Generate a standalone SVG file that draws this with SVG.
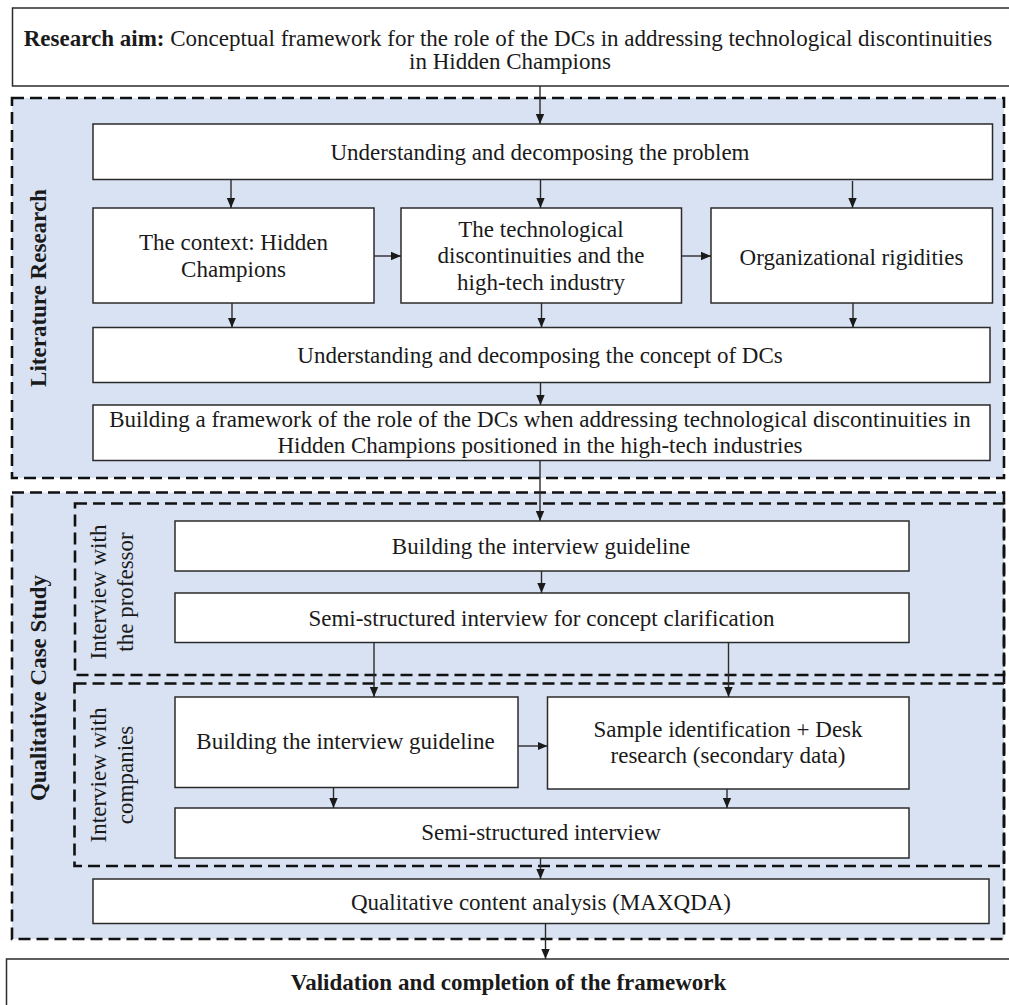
<svg xmlns="http://www.w3.org/2000/svg" width="1009" height="1005" viewBox="0 0 1009 1005">
  <defs>
    <marker id="arrow" markerUnits="userSpaceOnUse" markerWidth="10" markerHeight="10" viewBox="0 0 10 10" refX="10" refY="5" orient="auto">
      <path d="M0,0.8 L10,5 L0,9.2 Z" fill="#1a1a1a"/>
    </marker>
    <style>
      text { font-family: "Liberation Serif", "Times New Roman", serif; font-size: 23px; fill: #1a1a1a; text-anchor: middle; }
      .b { font-weight: bold; }
      .box { fill: #ffffff; stroke: #2b2b2b; stroke-width: 1.5; }
      .zone { fill: #d9e2f3; stroke: #111111; stroke-width: 2.6; stroke-dasharray: 12 6; }
      .sub { fill: none; stroke: #111111; stroke-width: 2.6; stroke-dasharray: 12 6; }
      .edge { fill: none; stroke: #2b2b2b; stroke-width: 1.4; marker-end: url(#arrow); }
    </style>
  </defs>

  <rect width="1009" height="1005" fill="#ffffff"/>

  <!-- Phase containers -->
  <g id="zone-literature">
    <rect class="zone" x="12" y="98" width="992" height="380"/>
    <text class="b" transform="translate(46,288) rotate(-90)">Literature Research</text>
  </g>
  <g id="zone-case-study">
    <rect class="zone" x="12" y="492.5" width="992" height="446.5"/>
    <text class="b" transform="translate(46,688) rotate(-90)">Qualitative Case Study</text>
  </g>
  <g id="zone-professor">
    <rect class="sub" x="75" y="503.5" width="929" height="171.5"/>
    <text transform="translate(106,592) rotate(-90)">Interview with</text>
    <text transform="translate(132.5,592) rotate(-90)">the professor</text>
  </g>
  <g id="zone-companies">
    <rect class="sub" x="74.5" y="683.5" width="929.5" height="182.5"/>
    <text transform="translate(106,775) rotate(-90)">Interview with</text>
    <text transform="translate(132.5,775) rotate(-90)">companies</text>
  </g>

  <!-- Nodes -->
  <g id="research-aim">
    <rect class="box" x="12.5" y="8" width="1010" height="78"/>
    <text x="508" y="46"><tspan class="b">Research aim:</tspan> Conceptual framework for the role of the DCs in addressing technological discontinuities</text>
    <text x="510" y="68.5">in Hidden Champions</text>
  </g>
  <g id="decompose-problem">
    <rect class="box" x="93" y="124" width="899.5" height="55.5"/>
    <text x="540" y="159.5">Understanding and decomposing the problem</text>
  </g>
  <g id="context-hidden-champions">
    <rect class="box" x="93" y="208" width="281" height="95"/>
    <text x="233.5" y="250">The context: Hidden</text>
    <text x="233.5" y="276.7">Champions</text>
  </g>
  <g id="tech-discontinuities">
    <rect class="box" x="401" y="208" width="280.5" height="95"/>
    <text x="541" y="236.7">The technological</text>
    <text x="541" y="263.3">discontinuities and the</text>
    <text x="541" y="290">high-tech industry</text>
  </g>
  <g id="org-rigidities">
    <rect class="box" x="711" y="208" width="281.5" height="95"/>
    <text x="851.5" y="265">Organizational rigidities</text>
  </g>
  <g id="decompose-dcs">
    <rect class="box" x="93" y="327.5" width="897" height="55"/>
    <text x="540" y="362.5">Understanding and decomposing the concept of DCs</text>
  </g>
  <g id="build-framework">
    <rect class="box" x="93" y="405" width="897" height="55.5"/>
    <text x="540" y="426.7">Building a framework of the role of the DCs when addressing technological discontinuities in</text>
    <text x="540" y="453">Hidden Champions positioned in the high-tech industries</text>
  </g>
  <g id="prof-guideline">
    <rect class="box" x="175" y="521" width="734" height="50"/>
    <text x="541" y="554">Building the interview guideline</text>
  </g>
  <g id="prof-interview">
    <rect class="box" x="175" y="593" width="734" height="49.5"/>
    <text x="541.5" y="626">Semi-structured interview for concept clarification</text>
  </g>
  <g id="company-guideline">
    <rect class="box" x="175" y="697" width="343" height="90.5"/>
    <text x="345.5" y="749">Building the interview guideline</text>
  </g>
  <g id="sample-identification">
    <rect class="box" x="547.5" y="697" width="361.5" height="92"/>
    <text x="728" y="736.7">Sample identification + Desk</text>
    <text x="728" y="763.3">research (secondary data)</text>
  </g>
  <g id="company-interview">
    <rect class="box" x="175" y="808" width="734" height="50"/>
    <text x="541" y="840">Semi-structured interview</text>
  </g>
  <g id="content-analysis">
    <rect class="box" x="93" y="879" width="896" height="44.5"/>
    <text x="541" y="910">Qualitative content analysis (MAXQDA)</text>
  </g>
  <g id="validation">
    <rect class="box" x="6.5" y="959" width="1010" height="60"/>
    <text class="b" x="508.5" y="990">Validation and completion of the framework</text>
  </g>

  <!-- Connectors -->
  <g id="connectors">
    <line class="edge" x1="540" y1="86" x2="540" y2="124"/>
    <line class="edge" x1="231" y1="179.5" x2="231" y2="208"/>
    <line class="edge" x1="540.5" y1="179.5" x2="540.5" y2="208"/>
    <line class="edge" x1="852.5" y1="181" x2="852.5" y2="208"/>
    <line class="edge" x1="374" y1="256" x2="401" y2="256"/>
    <line class="edge" x1="681.5" y1="256" x2="711" y2="256"/>
    <line class="edge" x1="232" y1="303" x2="232" y2="327.5"/>
    <line class="edge" x1="541.5" y1="303" x2="541.5" y2="327.5"/>
    <line class="edge" x1="853" y1="303" x2="853" y2="327.5"/>
    <line class="edge" x1="540.5" y1="382.5" x2="540.5" y2="405"/>
    <line class="edge" x1="540" y1="460.5" x2="540" y2="521"/>
    <line class="edge" x1="541.5" y1="571" x2="541.5" y2="593"/>
    <line class="edge" x1="374" y1="642.5" x2="374" y2="697"/>
    <line class="edge" x1="728.5" y1="642.5" x2="728.5" y2="697"/>
    <line class="edge" x1="518" y1="746" x2="547.5" y2="746"/>
    <line class="edge" x1="333.5" y1="787.5" x2="333.5" y2="808"/>
    <line class="edge" x1="727" y1="789" x2="727" y2="808"/>
    <line class="edge" x1="540.5" y1="858" x2="540.5" y2="879"/>
    <line class="edge" x1="545.5" y1="923.5" x2="545.5" y2="959"/>
  </g>
</svg>
